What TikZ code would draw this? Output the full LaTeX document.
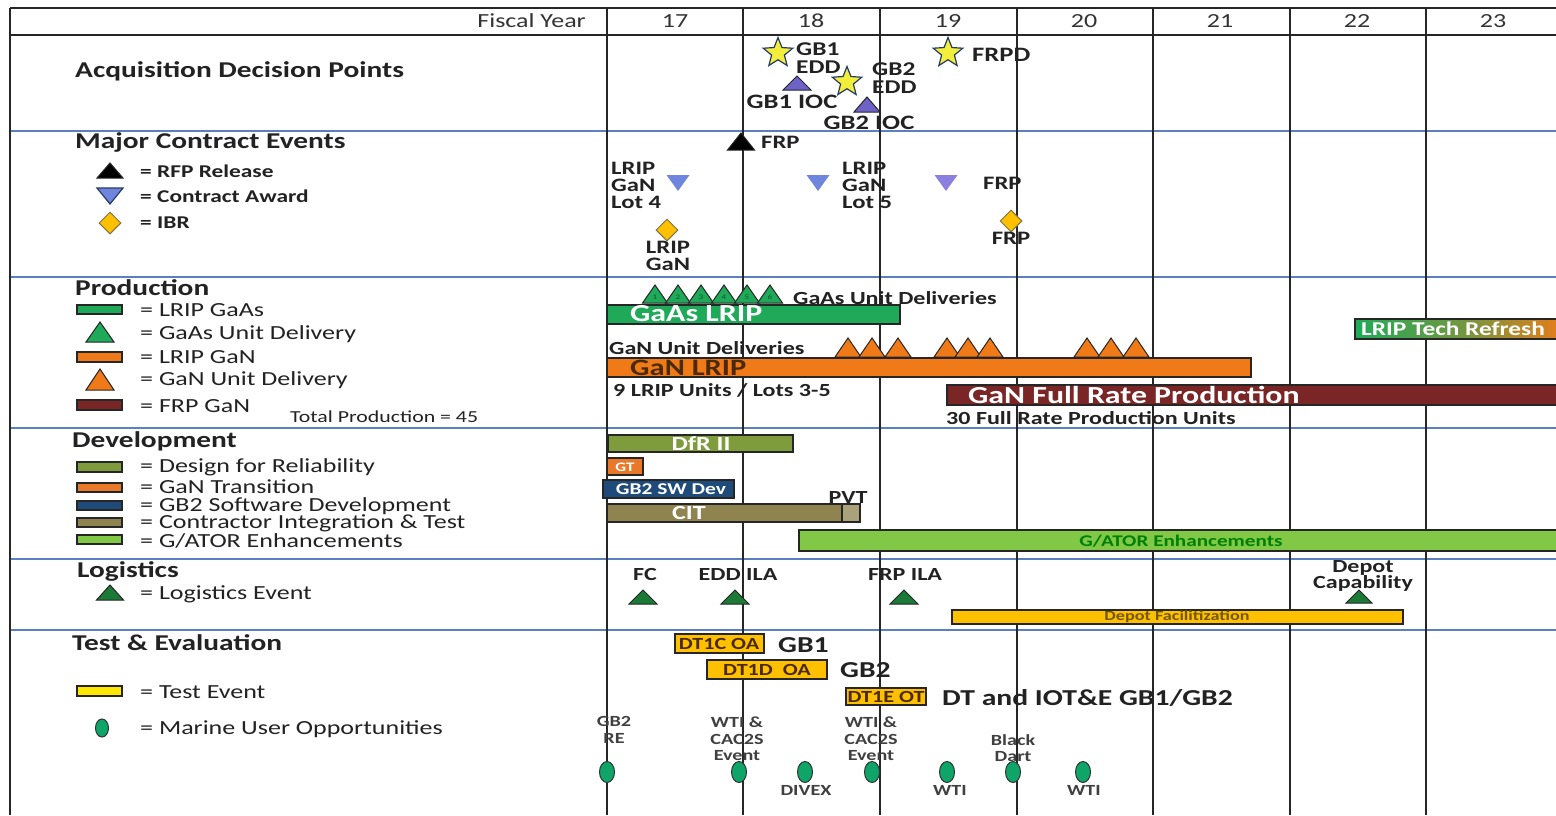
\documentclass[tikz,border=0pt]{standalone}
\usepackage{fontspec}
\setmainfont{Carlito}[FakeStretch=1.3]
\usetikzlibrary{shapes.geometric}
\definecolor{txt}{HTML}{222222}
\definecolor{sepblue}{HTML}{5B7FC0}
\definecolor{gaas}{HTML}{1FAA5A}
\definecolor{gan}{HTML}{F07A18}
\definecolor{frp}{HTML}{7A2626}
\definecolor{dfr}{HTML}{7E9C3C}
\definecolor{gt}{HTML}{E8782A}
\definecolor{swdev}{HTML}{1F4B7A}
\definecolor{cit}{HTML}{8F8350}
\definecolor{gator}{HTML}{80C846}
\definecolor{gold}{HTML}{FFC000}
\definecolor{logi}{HTML}{1B7A36}
\definecolor{margreen}{HTML}{0FA568}
\definecolor{iocp}{HTML}{6E62C8}
\definecolor{award}{HTML}{6F86DC}
\definecolor{awardp}{HTML}{8C7FE0}
\definecolor{stary}{HTML}{F2EE3A}
\definecolor{starb}{HTML}{263A6A}
\definecolor{dtxt}{HTML}{4A2A00}
\begin{document}
\begin{tikzpicture}[x=1pt,y=-1pt,
  every node/.style={inner sep=0pt, text=txt},
  hd/.style={anchor=west, font=\fontsize{22.6}{24}\selectfont\bfseries},
  lgr/.style={anchor=west, font=\fontsize{20}{22}\selectfont},
  lgb/.style={anchor=west, font=\fontsize{18}{20}\selectfont\bfseries},
  lb/.style={font=\fontsize{20.5}{17}\selectfont\bfseries},
  lb2/.style={font=\fontsize{19.5}{18}\selectfont\bfseries},
  mb/.style={font=\fontsize{18.5}{16.5}\selectfont\bfseries},
  mcb/.style={font=\fontsize{19}{17}\selectfont\bfseries},
  sm/.style={font=\fontsize{16.8}{18}\selectfont},
  smb/.style={font=\fontsize{15.5}{16.5}\selectfont\bfseries, text=black!75},
  yr/.style={font=\fontsize{20}{22}\selectfont, text=black!80},
  bar/.style={draw=black!85, line width=1.2pt},
  lgrect/.style={draw=black!85, line width=1.6pt},
  inbar/.style={font=\fontsize{24.5}{26}\selectfont\bfseries, text=white, anchor=west},
  inbarc/.style={font=\fontsize{16.5}{18}\selectfont\bfseries, text=white},
  tb/.style={font=\fontsize{17}{18}\selectfont\bfseries, text=dtxt},
  teb/.style={font=\fontsize{22.8}{24}\selectfont\bfseries, anchor=west},
  sep/.style={draw=sepblue, line width=1.3pt},
  frame/.style={draw=black!85, line width=2pt},
  star5/.style={star, star points=5, star point ratio=2.3, minimum size=31pt, fill=stary, draw=starb, line width=1.2pt},
  ibr/.style={diamond, minimum size=22pt, fill=gold, draw=black!60!yellow, line width=1pt},
  mug/.style={ellipse, minimum width=15pt, minimum height=21pt, fill=margreen, draw=black!80, line width=1pt},
  pics/up/.style n args={3}{code={\draw[fill=#1, draw=black!85, line width=1pt, line join=miter] (-#2/2,0) -- (0,-#3) -- (#2/2,0) -- cycle;}},
  pics/dn/.style n args={3}{code={\fill[#1] (-#2/2,0) -- (0,#3) -- (#2/2,0) -- cycle;}},
]
\useasboundingbox (0,0) rectangle (1556,815);
\fill[white] (0,0) rectangle (1556,815);
\clip (0,0) rectangle (1556,815);

% grid
\foreach \yy in {131,277,428,559,630} \draw[sep] (10,\yy) -- (1556,\yy);
\draw[frame] (10,8) -- (1556,8);
\draw[frame] (10,35) -- (1556,35);
\draw[frame] (10,8) -- (10,815);
\foreach \xx in {607,743,880,1017,1153,1290,1426} \draw[frame] (\xx,8) -- (\xx,815);

% header
\node[yr, anchor=east] (fy) at (586,21) {Fiscal Year};
\foreach \n/\xx in {17/675,18/811,19/948,20/1084,21/1220,22/1357,23/1493} \node[yr] (yr\n) at (\xx,21) {\n};

% Acquisition Decision Points
\node[hd] (adp) at (75,71) {Acquisition Decision Points};
\node[star5] (s1) at (778,53) {};
\node[lb2, anchor=west, align=left] (s1l) at (796,58) {GB1\\EDD};
\node[star5] (s2) at (847,82) {};
\node[lb2, anchor=west, align=left] (s2l) at (872,78) {GB2\\EDD};
\node[star5] (s3) at (948,53) {};
\node[lb, anchor=west] (s3l) at (972,55) {FRPD};
\pic at (797,90) {up={iocp}{28}{14}};
\node[lb] (ioc1) at (792,102) {GB1 IOC};
\pic at (867,112) {up={iocp}{26}{15}};
\node[lb] (ioc2) at (869,123) {GB2 IOC};

% Major Contract Events
\node[hd] (mce) at (75,142) {Major Contract Events};
\pic at (110,178) {up={black}{26}{15}};
\node[lgb] (l1) at (140,171) {= RFP Release};
\draw[fill=award, draw=starb, line width=1.2pt] (97,188) -- (123,188) -- (110,204) -- cycle;
\node[lgb] (l2) at (140,196) {= Contract Award};
\node[ibr] (l3d) at (110,223) {};
\node[lgb] (l3) at (140,223) {= IBR};
\pic at (741,150) {up={black}{27}{17}};
\node[mcb, anchor=west] (frp1) at (761,142) {FRP};
\node[mcb, align=left, anchor=west] (lot4) at (611,185) {LRIP\\GaN\\Lot 4};
\pic at (678,175) {dn={award}{23}{16}};
\pic at (818,175) {dn={award}{23}{16}};
\node[mcb, align=left, anchor=west] (lot5) at (842,185) {LRIP\\GaN\\Lot 5};
\pic at (946,175) {dn={awardp}{23}{16}};
\node[mcb, anchor=west] (frp2) at (983,183) {FRP};
\node[ibr] (ibr1) at (667,230) {};
\node[mcb, align=center] (ibr1l) at (668,256) {LRIP\\GaN};
\node[ibr] (ibr2) at (1011,221) {};
\node[mcb] (ibr2l) at (1011,238) {FRP};

% Production
\node[hd] (prod) at (75,288) {Production};
\draw[lgrect, fill=gaas] (77,305) rectangle (122,314);
\node[lgr] (p1) at (140,310) {= LRIP GaAs};
\pic at (100,342) {up={gaas}{28}{20}};
\node[lgr] (p2) at (140,334) {= GaAs Unit Delivery};
\draw[lgrect, fill=gan] (77,352) rectangle (122,362);
\node[lgr] (p3) at (140,357) {= LRIP GaN};
\pic at (100,390) {up={gan}{28}{21}};
\node[lgr] (p4) at (140,380) {= GaN Unit Delivery};
\draw[lgrect, fill=frp] (77,400) rectangle (122,410);
\node[lgr] (p5) at (140,406) {= FRP GaN};
\node[sm, anchor=west] (tot) at (290,417) {Total Production = 45};

\foreach \xx [count=\i] in {655,678,701,724,747,770} {
  \pic at (\xx,303) {up={gaas}{25}{18}};
  \node[font=\fontsize{7}{8}\selectfont, text=black!50!gaas] (ga\i) at (\xx,297) {\i};
}
\node[mb, anchor=west] (gaasd) at (793,298) {GaAs Unit Deliveries};
\draw[bar, fill=gaas] (607,305) rectangle (900,324);
\node[inbar] (gaasl) at (630,314) {GaAs LRIP};
\foreach \xx in {848,872,898,947,968,990,1087,1111,1136} \pic at (\xx,357) {up={gan}{26}{19}};
\node[mb, anchor=west] (gand) at (609,348) {GaN Unit Deliveries};
\draw[bar, fill=gan] (607,358) rectangle (1251,377);
\node[inbar, text=dtxt, font=\fontsize{23.5}{25}\selectfont\bfseries] (ganl) at (630,368) {GaN LRIP};
\node[mb, anchor=west] (lrip9) at (613,390) {9 LRIP Units / Lots 3-5};
\draw[bar, fill=frp] (947,385) rectangle (1570,405);
\node[inbar] (ganfrp) at (968,395) {GaN Full Rate Production};
\node[mb, anchor=west] (frp30) at (946,418) {30 Full Rate Production Units};
\shade[left color=gaas, right color=gan, middle color=gaas!60!gan] (1355,319) rectangle (1570,339);
\draw[bar] (1355,319) rectangle (1570,339);
\node[inbar, font=\fontsize{19.5}{21}\selectfont\bfseries] (tr) at (1361,329) {LRIP Tech Refresh};

% Development
\node[hd] (dev) at (72,441) {Development};
\draw[lgrect, fill=dfr] (77,462) rectangle (122,472);
\node[lgr] (d1) at (140,467) {= Design for Reliability};
\draw[lgrect, fill=gt] (77,483) rectangle (122,492);
\node[lgr] (d2) at (140,487) {= GaN Transition};
\draw[lgrect, fill=swdev] (77,501) rectangle (122,510);
\node[lgr] (d3) at (140,506) {= GB2 Software Development};
\draw[lgrect, fill=cit] (77,518) rectangle (122,527);
\node[lgr] (d4) at (140,523) {= Contractor Integration \& Test};
\draw[lgrect, fill=gator] (77,535) rectangle (122,544);
\node[lgr] (d5) at (140,541) {= G/ATOR Enhancements};

\draw[bar, fill=dfr] (608,435) rectangle (793,452);
\node[inbarc, font=\fontsize{20}{22}\selectfont\bfseries] (dfrl) at (701,444) {DfR II};
\draw[bar, fill=gt] (607,458) rectangle (643,475);
\node[inbarc, font=\fontsize{13}{14}\selectfont\bfseries] (gtl) at (625,467) {GT};
\draw[bar, fill=swdev] (603,480) rectangle (734,498);
\node[inbarc] (swl) at (671,489) {GB2 SW Dev};
\draw[bar, fill=cit] (607,504) rectangle (842,522);
\draw[bar, fill=cit!75!white] (842,504) rectangle (860,522);
\node[inbarc, font=\fontsize{20}{22}\selectfont\bfseries] (citl) at (689,513) {CIT};
\node[mb] (pvt) at (848,497) {PVT};
\draw[bar, fill=gator] (799,530) rectangle (1570,551);
\node[font=\fontsize{16.3}{18}\selectfont\bfseries, text=black!50!green] (gatorl) at (1181,541) {G/ATOR Enhancements};

% Logistics
\node[hd] (logi) at (77,571) {Logistics};
\pic at (110,600) {up={logi}{27}{15}};
\node[lgr] (lg1) at (140,594) {= Logistics Event};
\node[mb] (fc) at (645,574) {FC};
\pic at (643,604) {up={logi}{28}{14}};
\node[mb] (eddila) at (738,574) {EDD ILA};
\pic at (735,604) {up={logi}{28}{14}};
\node[mb] (frpila) at (905,574) {FRP ILA};
\pic at (904,604) {up={logi}{28}{14}};
\node[mb, align=center] (depc) at (1363,576) {Depot\\Capability};
\pic at (1359,603) {up={logi}{26}{13}};
\draw[bar, fill=gold] (952,610) rectangle (1403,624);
\node[font=\fontsize{14}{15}\selectfont\bfseries, text=black!55!gold] (depf) at (1177,617) {Depot Facilitization};

% Test & Evaluation
\node[hd] (te) at (72,643) {Test \& Evaluation};
\draw[lgrect, fill=yellow!80!gold] (77,686) rectangle (122,696);
\node[lgr] (t1) at (140,692) {= Test Event};
\node[mug, minimum width=13pt, minimum height=18pt] (t2e) at (102,728) {};
\node[lgr] (t2) at (140,729) {= Marine User Opportunities};
\draw[bar, fill=gold] (675,634) rectangle (764,653);
\node[tb] (dt1c) at (719,644) {DT1C OA};
\node[teb] (gb1) at (778,645) {GB1};
\draw[bar, fill=gold] (707,660) rectangle (827,679);
\node[tb] (dt1d) at (767,670) {DT1D\ \ OA};
\node[teb] (gb2) at (840,670) {GB2};
\draw[bar, fill=gold] (846,688) rectangle (926,705);
\node[tb] (dt1e) at (886,697) {DT1E OT};
\node[teb] (dtiot) at (942,698) {DT and IOT\&E GB1/GB2};

\foreach \xx [count=\i] in {607,739,805,872,947,1013,1083} \node[mug] (m\i) at (\xx,772) {};
\node[smb, align=center] (ml1) at (614,730) {GB2\\RE};
\node[smb, align=center] (ml2) at (737,739) {WTI \&\\CAC2S\\Event};
\node[smb, align=center] (ml4) at (871,739) {WTI \&\\CAC2S\\Event};
\node[smb] (ml3) at (806,790) {DIVEX};
\node[smb] (ml5) at (950,790) {WTI};
\node[smb, align=center] (ml6) at (1013,748) {Black\\Dart};
\node[smb] (ml7) at (1084,790) {WTI};
\end{tikzpicture}
\end{document}
